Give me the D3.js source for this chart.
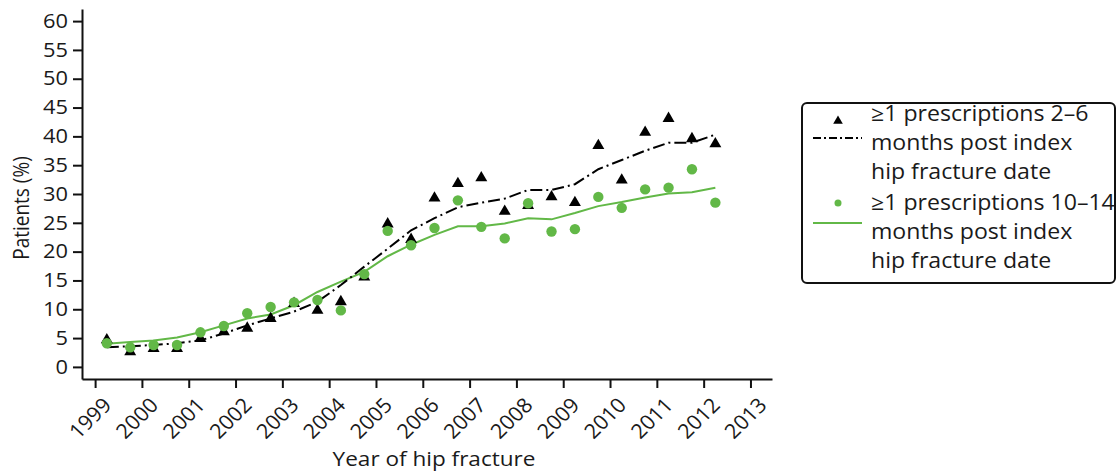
<!DOCTYPE html>
<html><head><meta charset="utf-8">
<script src="https://cdn.jsdelivr.net/npm/d3@7"></script>
<style>
body{margin:0;background:#fff;}
svg text{font-family:"Open Sans",sans-serif;fill:#1a1a1a;}
</style></head><body>
<svg id="c" width="1118" height="473"></svg>
<script>
// Data: half-year points
const periods = [1999.25,1999.75,2000.25,2000.75,2001.25,2001.75,2002.25,2002.75,2003.25,2003.75,2004.25,2004.75,2005.25,2005.75,2006.25,2006.75,2007.25,2007.75,2008.25,2008.75,2009.25,2009.75,2010.25,2010.75,2011.25,2011.75,2012.25];
const early = [4.7,2.6,3.2,3.2,4.9,6.1,6.7,8.4,11.0,9.8,11.3,15.6,24.8,22.1,29.3,31.8,32.8,27.0,28.0,29.5,28.5,38.4,32.4,40.7,43.1,39.6,38.7];
const earlySmooth = [3.4,3.6,3.8,4.1,4.6,5.8,7.2,8.4,9.6,11.3,14.2,17.4,20.5,23.7,25.8,27.7,28.5,29.2,30.7,30.7,31.7,34.3,35.9,37.5,38.9,38.9,40.3];
const late = [4.1,3.4,3.8,3.8,6.0,7.1,9.3,10.4,11.2,11.6,9.8,16.1,23.6,21.1,24.1,28.9,24.3,22.3,28.4,23.5,23.9,29.5,27.6,30.8,31.1,34.3,28.5];
const lateSmooth = [4.0,4.3,4.6,5.1,6.0,7.2,8.4,9.1,10.7,13.0,14.8,16.5,19.2,21.2,22.9,24.4,24.4,24.9,25.8,25.6,26.7,27.9,28.6,29.4,30.1,30.3,31.1];
const yearTicks = [1999,2000,2001,2002,2003,2004,2005,2006,2007,2008,2009,2010,2011,2012,2013];
const yTicks = [0,5,10,15,20,25,30,35,40,45,50,55,60];
const legendLabels = [["\u22651 prescriptions 2\u20136","months post index","hip fracture date"],["\u22651 prescriptions 10\u201314","months post index","hip fracture date"]];

const green = "#62b847";
const svg = d3.select("#c");
const x = d3.scaleLinear().domain([1998.72, 2013.46]).range([82, 772]);
const y = d3.scaleLinear().domain([-2.1, 62.1]).range([379, 9]);

// axes
const yAxis = d3.axisLeft(y).tickValues(yTicks).tickSize(9).tickPadding(5).tickSizeOuter(0);
const gy = svg.append("g").attr("transform","translate(82,0)").call(yAxis);
const xAxis = d3.axisBottom(x).tickValues(yearTicks).tickFormat(d3.format("d")).tickSize(9).tickSizeOuter(0);
const gx = svg.append("g").attr("transform","translate(0,379)").call(xAxis);
[gx,gy].forEach(g=>{
  g.select(".domain").attr("stroke","#111").attr("stroke-width",2);
  g.selectAll(".tick line").attr("stroke","#111").attr("stroke-width",2);
  g.selectAll("text").attr("font-size",19.5).attr("fill","#1a1a1a");
});
gy.selectAll("text").attr("x",0).attr("transform","translate(-14,0) scale(1.12,1)");
gx.selectAll("text").attr("text-anchor","end").attr("dy",0).attr("dx",0).attr("font-size",20.5)
  .attr("transform","translate(8,19) scale(1.05,1) rotate(-46)");

svg.append("text").attr("transform","translate(434,466) scale(1.1,1)").attr("text-anchor","middle").attr("font-size",20.5).text("Year of hip fracture");
svg.append("text").attr("transform","translate(29,208) scale(1.12,1) rotate(-90)").attr("text-anchor","middle").attr("font-size",19).text("Patients (%)");

// lines
const line = d3.line().x((d,i)=>x(periods[i])).y(d=>y(d));
svg.append("path").datum(lateSmooth).attr("d",line).attr("fill","none").attr("stroke",green).attr("stroke-width",2);
svg.append("path").datum(earlySmooth).attr("d",line).attr("fill","none").attr("stroke","#000").attr("stroke-width",2).attr("stroke-dasharray","12,4,2,4");

// markers
const tri = d3.symbol().type(d3.symbolTriangle).size(62);
svg.append("g").selectAll("path").data(early).join("path")
  .attr("d",tri).attr("fill","#000")
  .attr("transform",(d,i)=>`translate(${x(periods[i])},${y(d)})`);
svg.append("g").selectAll("circle").data(late).join("circle")
  .attr("cx",(d,i)=>x(periods[i])).attr("cy",d=>y(d)).attr("r",5.2).attr("fill",green);

// legend
const lg = svg.append("g");
lg.append("rect").attr("x",802).attr("y",103).attr("width",313).attr("height",180).attr("rx",5)
  .attr("fill","#fff").attr("stroke","#111").attr("stroke-width",2);
lg.append("path").attr("d",d3.symbol().type(d3.symbolTriangle).size(40)()).attr("transform","translate(838,121)").attr("fill","#000");
lg.append("line").attr("x1",813).attr("x2",862).attr("y1",138).attr("y2",138).attr("stroke","#000").attr("stroke-width",2).attr("stroke-dasharray","8,3,2,3");
lg.append("circle").attr("cx",838).attr("cy",203).attr("r",3.5).attr("fill",green);
lg.append("line").attr("x1",813).attr("x2",862).attr("y1",223).attr("y2",223).attr("stroke",green).attr("stroke-width",2);
legendLabels.forEach((lines,k)=>{
  lines.forEach((t,j)=>{
    lg.append("text").attr("transform",`translate(871,${121+k*89+j*29}) scale(1.1,1)`).attr("font-size",21).text(t);
  });
});
</script></body></html>
